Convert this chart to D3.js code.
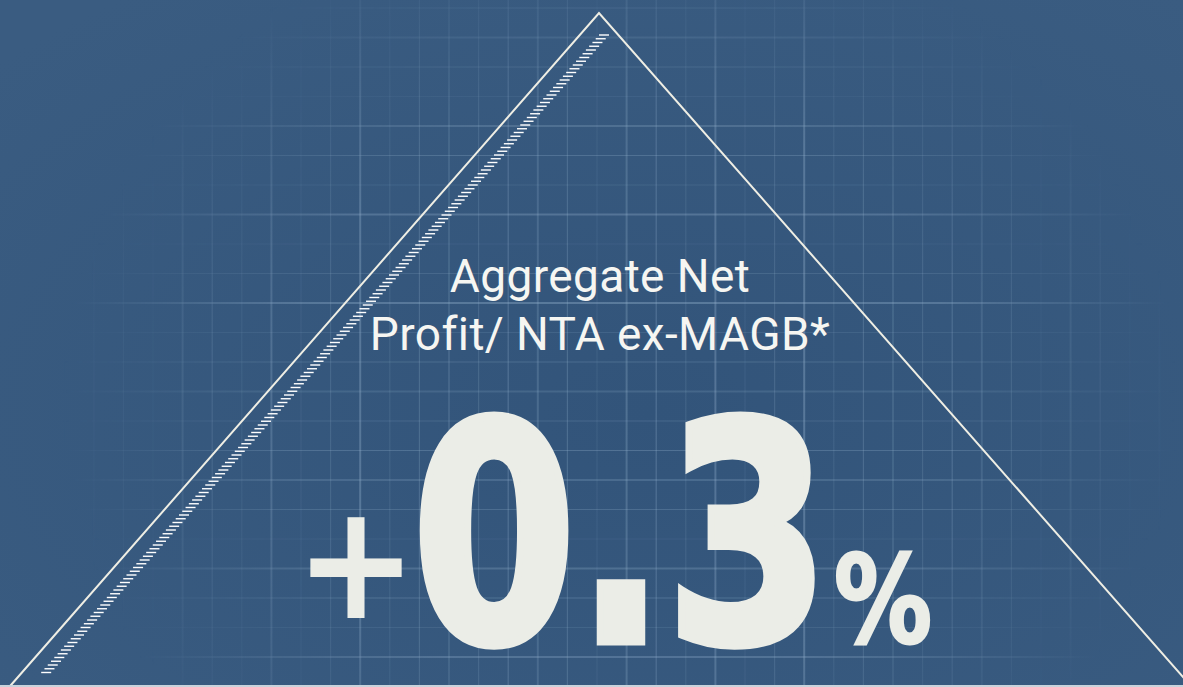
<!DOCTYPE html>
<html>
<head>
<meta charset="utf-8">
<script src="https://cdn.jsdelivr.net/npm/d3@7"></script>
<style>
  html, body { margin: 0; padding: 0; background: #375a7e; overflow: hidden; }
</style>
</head>
<body>
<div id="chart"></div>
<script>
const width = 1183;
const height = 687;

// Content
const titleLines = ["Aggregate Net", "Profit/ NTA ex-MAGB*"];
const metricValue = [0.3];
const metricUnit = ["%"];

const ink = "#ebede7";
const lineInk = "#efeee4";

const svg = d3.select("#chart").append("svg")
    .attr("width", width)
    .attr("height", height)
    .attr("viewBox", [0, 0, width, height]);

const defs = svg.append("defs");

// background
const bg = defs.append("radialGradient").attr("id", "bgGrad")
    .attr("cx", 0.55).attr("cy", 0.6).attr("r", 0.75);
bg.append("stop").attr("offset", "0%").attr("stop-color", "#32547a");
bg.append("stop").attr("offset", "100%").attr("stop-color", "#3a5c81");

svg.append("rect").attr("width", width).attr("height", height).attr("fill", "url(#bgGrad)");

// blueprint grid, fading towards the corners
const fade = defs.append("radialGradient").attr("id", "fade")
    .attr("gradientUnits", "userSpaceOnUse")
    .attr("cx", 620).attr("cy", 400).attr("r", 560)
    .attr("gradientTransform", "translate(620,400) scale(1,0.9) translate(-620,-400)");
fade.append("stop").attr("offset", "0%").attr("stop-color", "#fff").attr("stop-opacity", 1);
fade.append("stop").attr("offset", "60%").attr("stop-color", "#fff").attr("stop-opacity", 0.85);
fade.append("stop").attr("offset", "100%").attr("stop-color", "#fff").attr("stop-opacity", 0);
defs.append("mask").attr("id", "gridMask")
  .append("rect").attr("width", width).attr("height", height).attr("fill", "url(#fade)");

const grid = svg.append("g").attr("mask", "url(#gridMask)").attr("stroke", "#9dbad4");
const gx = d3.range(5, width, 29.6);
const gy = d3.range(8, height, 29.5);
const alpha = i => 0.10 + 0.05 * ((i * 7) % 5) + (i % 3 === 0 ? 0.08 : 0);

grid.selectAll(".v").data(gx).join("line")
    .attr("class", "v")
    .attr("x1", d => d).attr("x2", d => d)
    .attr("y1", 0).attr("y2", height)
    .attr("stroke-width", (d, i) => i % 3 === 0 ? 2 : 1.2)
    .attr("stroke-opacity", (d, i) => alpha(i));

grid.selectAll(".h").data(gy).join("line")
    .attr("class", "h")
    .attr("y1", d => d).attr("y2", d => d)
    .attr("x1", 0).attr("x2", width)
    .attr("stroke-width", (d, i) => i % 3 === 1 ? 2 : 1.2)
    .attr("stroke-opacity", (d, i) => alpha(i + 2));

// triangle
const apex = [599, 13];
const baseY = 686;
const slopeL = 0.875, slopeR = 0.8795;
const tri = [
  [apex[0] - slopeL * (baseY - apex[1]), baseY],
  apex,
  [apex[0] + slopeR * (baseY - apex[1]), baseY]
];
svg.append("path")
    .attr("d", d3.line()(tri))
    .attr("fill", "none")
    .attr("stroke", lineInk)
    .attr("stroke-width", 2);
svg.append("line")
    .attr("x1", 0).attr("x2", width)
    .attr("y1", baseY).attr("y2", baseY)
    .attr("stroke", "#c9d3dc").attr("stroke-width", 2);

// hatched rule parallel to the left edge
const hatchTop = [609, 35];
const hatches = d3.range(hatchTop[1], 674, 3.75);
svg.append("g").selectAll("line").data(hatches).join("line")
    .attr("x1", y => hatchTop[0] - slopeL * (y - hatchTop[1]) - 10)
    .attr("x2", y => hatchTop[0] - slopeL * (y - hatchTop[1]))
    .attr("y1", y => y).attr("y2", y => y)
    .attr("stroke", "#ffffff")
    .attr("stroke-width", 1.4);

// headline
svg.append("g").selectAll("text").data(titleLines).join("text")
    .attr("x", 600)
    .attr("y", (d, i) => 292 + i * 58)
    .attr("text-anchor", "middle")
    .attr("font-family", "Roboto, 'Open Sans', sans-serif")
    .attr("font-size", 46)
    .attr("letter-spacing", 0.4)
    .attr("fill", "#f6f6f2")
    .text(d => d);

// big figure
const formatted = d3.format("+.1f")(metricValue[0]);
const sign = formatted.slice(0, 1);
const digits = formatted.slice(1);

const big = svg.append("g")
    .attr("font-family", "'DejaVu Sans', sans-serif")
    .attr("font-weight", 700)
    .attr("fill", ink)
    .attr("stroke", ink)
    .attr("stroke-linejoin", "miter");

big.append("text")
    .attr("x", 356).attr("y", 618)
    .attr("text-anchor", "middle")
    .attr("font-size", 160)
    .attr("stroke-width", 0)
    .attr("textLength", 122)
    .attr("lengthAdjust", "spacingAndGlyphs")
    .text(sign);

big.append("text")
    .attr("x", 412).attr("y", 641)
    .attr("font-size", 303)
    .attr("stroke-width", 9)
    .attr("textLength", 418)
    .attr("lengthAdjust", "spacingAndGlyphs")
    .text(digits);

big.append("text")
    .attr("x", 834).attr("y", 642)
    .attr("font-size", 122)
    .attr("stroke-width", 3)
    .attr("textLength", 98)
    .attr("lengthAdjust", "spacingAndGlyphs")
    .text(metricUnit[0]);
</script>
</body>
</html>
